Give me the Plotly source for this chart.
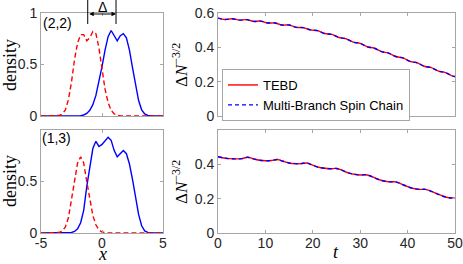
import plotly.graph_objects as go

W, H = 463, 264

# ---------------- data ----------------
x_grid = [-5 + 0.25 * i for i in range(41)]

blue_22 = [0]*13 + [.003, .01, .025, .055, .11, .2, .33, .48, .64, .77, .83, .78, .73, .78, .80,
                    .76, .64, .47, .3, .15, .06, .02, .005] + [0]*5
red_22 = [0]*6 + [.005, .02, .06, .16, .33, .55, .71, .79, .79, .73, .76, .82, .80, .66, .45,
                  .26, .13, .055, .02, .006] + [0]*15
blue_13 = [0]*9 + [0, .005, .015, .04, .1, .22, .45, .66, .82, .89, .84, .86, .9, .93, .9, .8,
                   .74, .77, .8, .77, .67, .52, .35, .18, .07, .02, .005] + [0]*5
red_13 = [0]*6 + [.005, .02, .06, .15, .32, .52, .68, .74, .68, .50, .32, .17, .08, .03, .01,
                  .003] + [0]*19

t_top = [0, 1.5, 3, 4.5, 6, 7.5, 9, 10.5, 12, 13.5, 15, 16.5, 18, 19.5, 21, 22.5, 24, 25.5, 27,
         28.5, 30, 31.5, 33, 34.5, 36, 37.5, 39, 40.5, 42, 43.5, 45, 46.5, 48, 49.5, 50]
tebd_top = [.570, .5622, .5664, .5586, .5612, .551, .5528, .542, .542, .530, .530, .5165, .515,
            .5015, .4976, .4805, .4754, .4575, .450, .4305, .423, .4029, .3948, .3747, .3666,
            .3465, .3384, .3183, .310, .2898, .2815, .2613, .253, .2328, .230]
mbsc_top = list(tebd_top)

t_bot = [0, 1.25, 2.5, 3.75, 5, 6.25, 7.5, 8.75, 10, 11.25, 12.5, 13.75, 15, 16.25, 17.5, 18.75,
         20, 21.25, 22.5, 23.75, 25, 26.25, 27.5, 28.75, 30, 31.25, 32.5, 33.75, 35, 36.25, 37.5,
         38.75, 40, 41.25, 42.5, 43.75, 45, 46.25, 47.5, 48.75, 50]
tebd_bot = [.444, .437, .433, .432, .433, .441, .432, .424, .421, .422, .428, .418, .408, .404,
            .404, .408, .395, .383, .377, .374, .376, .365, .35, .342, .338, .339, .328, .313,
            .303, .298, .298, .285, .27, .259, .254, .254, .243, .228, .214, .205, .203]
mbsc_bot = list(tebd_bot)

delta_left, delta_right = -1.17, 1.15
panel_labels = ["(2,2)", "(1,3)"]
legend_names = ["TEBD", "Multi-Branch Spin Chain"]

# ---------------- figure ----------------
RED, BLUE = "#ff0000", "#0000ff"
fig = go.Figure()

def add(x, y, xa, ya, color, dash, name=None, show=False, shape="linear"):
    fig.add_trace(go.Scatter(x=x, y=y, xaxis=xa, yaxis=ya, mode="lines",
                             line=dict(color=color, dash=dash, width=1.4, shape=shape),
                             name=name, showlegend=show))

add(x_grid, blue_22, "x", "y", BLUE, "solid")
add(x_grid, red_22, "x", "y", RED, "5px,3px")
add(x_grid, blue_13, "x3", "y3", BLUE, "solid")
add(x_grid, red_13, "x3", "y3", RED, "5px,3px")

add(t_top, tebd_top, "x2", "y2", RED, "solid", legend_names[0], True, "spline")
add(t_top, mbsc_top, "x2", "y2", BLUE, "4px,3px", legend_names[1], True, "spline")
add(t_bot, tebd_bot, "x4", "y4", RED, "solid", shape="spline")
add(t_bot, mbsc_bot, "x4", "y4", BLUE, "4px,3px", shape="spline")

axc = "#a6a6a6"
tickfont = dict(family="Liberation Sans, Arial", size=14, color="#262626")
base = dict(showline=True, linecolor=axc, linewidth=1, mirror="ticks", ticks="inside",
            ticklen=3, tickcolor=axc, showgrid=False, zeroline=False, tickfont=tickfont,
            automargin=False, ticklabeloverflow="allow")
xbase = dict(base, ticklabelstandoff=-3)

dl = [41 / W, 163 / W]
dr = [218 / W, 455 / W]
dt = [1 - 116 / H, 1 - 13 / H]
db = [1 - 233 / H, 1 - 130 / H]

fig.update_layout(
    width=W, height=H, margin=dict(l=0, r=0, t=0, b=0, autoexpand=False),
    paper_bgcolor="white", plot_bgcolor="white",
    xaxis=dict(xbase, domain=dl, range=[-5, 5], tickvals=[-5, 0, 5], showticklabels=False, anchor="y"),
    yaxis=dict(base, domain=dt, range=[0, 1], tickvals=[0, 0.5, 1], ticktext=["0", "0.5", "1"], anchor="x"),
    xaxis2=dict(xbase, domain=dr, range=[0, 50], tickvals=[0, 10, 20, 30, 40, 50], showticklabels=False, anchor="y2"),
    yaxis2=dict(base, domain=dt, range=[0, 0.6], tickvals=[0, 0.2, 0.4, 0.6], ticktext=["0", "0.2", "0.4", "0.6"], anchor="x2"),
    xaxis3=dict(xbase, domain=dl, range=[-5, 5], tickvals=[-5, 0, 5], ticktext=["-5", "0", "5"], anchor="y3"),
    yaxis3=dict(base, domain=db, range=[0, 1], tickvals=[0, 0.5], ticktext=["0", "0.5"], anchor="x3"),
    xaxis4=dict(xbase, domain=dr, range=[0, 50], tickvals=[0, 10, 20, 30, 40, 50], anchor="y4"),
    yaxis4=dict(base, domain=db, range=[0, 0.6], tickvals=[0, 0.2, 0.4], ticktext=["0", "0.2", "0.4"], anchor="x4"),
    legend=dict(x=222 / W, y=1 - 69 / H, xanchor="left", yanchor="top",
                bgcolor="white", bordercolor="#a6a6a6", borderwidth=1,
                font=dict(family="Liberation Sans, Arial", size=13, color="#000000"),
                tracegroupgap=0),
    showlegend=True,
)

serif = "Liberation Serif, Times New Roman, serif"
ann = []
def txt(text, x, y, size, family, angle=0):
    ann.append(dict(text=text, x=x / W, y=1 - y / H, xref="paper", yref="paper",
                    showarrow=False, textangle=angle, xanchor="center", yanchor="middle",
                    font=dict(family=family, size=size, color="#000000")))

txt("density", 10, 65, 18, serif, -90)
txt("density", 10, 181, 18, serif, -90)
txt("Δ<i>N</i><sup>−3/2</sup>", 180, 65, 17, serif, -90)
txt("Δ<i>N</i><sup>−3/2</sup>", 180, 182, 17, serif, -90)
txt("<i>x</i>", 102, 254, 18, serif)
txt("<i>t</i>", 336, 252, 18, serif)
txt(panel_labels[0], 57, 23, 14, "Liberation Sans, Arial")
txt(panel_labels[1], 56, 138, 14, "Liberation Sans, Arial")
txt("Δ", 102, 7, 14, "Liberation Sans, Arial")

ann.append(dict(x=delta_right, y=1 - 14 / H, xref="x", yref="paper",
                ax=delta_left, ay=0, axref="x", ayref="pixel", text="",
                showarrow=True, arrowside="end+start", arrowhead=2, arrowsize=0.9,
                arrowwidth=1, arrowcolor="#000000", standoff=0, startstandoff=0))
fig.update_layout(annotations=ann)

for xv in (delta_left, delta_right):
    fig.add_shape(type="line", xref="x", yref="paper", x0=xv, x1=xv,
                  y0=1 - 24 / H, y1=1.0, line=dict(color="#000000", width=1))

fig.write_html("out.html", config={"displayModeBar": False},
               post_script="document.body.style.margin='0px';document.body.style.overflow='hidden';")
